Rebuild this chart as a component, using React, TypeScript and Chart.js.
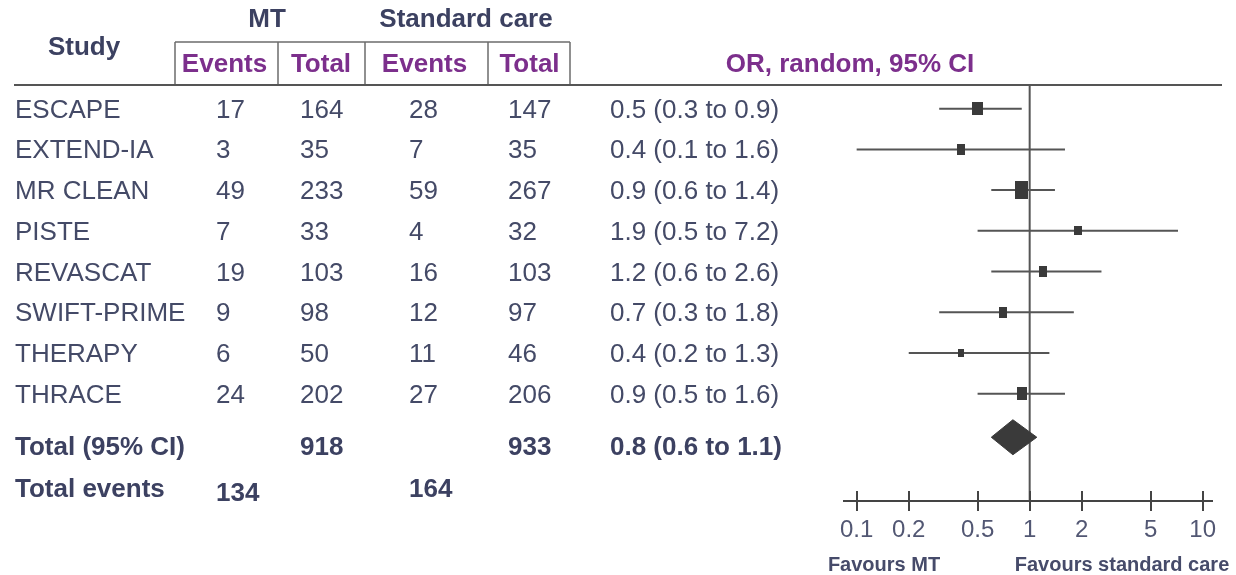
import { useEffect, useRef } from 'react';
import { Chart, registerables } from 'chart.js';

Chart.register(...registerables);

// Trials and raw counts (mechanical thrombectomy vs standard care)
const studies = ['ESCAPE', 'EXTEND-IA', 'MR CLEAN', 'PISTE', 'REVASCAT', 'SWIFT-PRIME', 'THERAPY', 'THRACE'];
const mtEvents = [17, 3, 49, 7, 19, 9, 6, 24];
const mtTotals = [164, 35, 233, 33, 103, 98, 50, 202];
const scEvents = [28, 7, 59, 4, 16, 12, 11, 27];
const scTotals = [147, 35, 267, 32, 103, 97, 46, 206];

// Odds ratios (random effects) with 95% confidence intervals
const oddsRatios = [0.5, 0.4, 0.9, 1.9, 1.2, 0.7, 0.4, 0.9];
const ciLower = [0.3, 0.1, 0.6, 0.5, 0.6, 0.3, 0.2, 0.5];
const ciUpper = [0.9, 1.6, 1.4, 7.2, 2.6, 1.8, 1.3, 1.6];

// Pooled result: [OR, lower, upper]
const pooledEstimate = [0.8, 0.6, 1.1];
// Participants [MT, standard care] and events [MT, standard care]
const totalParticipants = [918, 933];
const totalEvents = [134, 164];

const axisTicks = [0.1, 0.2, 0.5, 1, 2, 5, 10];

// ---- styling ----
const FONT = '"Liberation Sans", Arial, Helvetica, sans-serif';
const TEXT = '#444a67';
const HEAD = '#3c4161';
const PURPLE = '#7c2f8c';
const TICK_TEXT = '#525773';
const MARK = '#3a3a3a';
const RULE = '#555555';

// box width/height per study (weight markers)
const boxSizes: [number, number][] = [[11, 13], [8, 11], [13, 18], [8, 9], [8, 11], [8, 11], [6, 8], [10, 13]];

const Y_MIN = -0.582;
const Y_MAX = 9.636;
const TOTAL_ROW = 8.07;
const DIAMOND_HALF = 0.43;

const COLS = [15, 216, 300, 409, 508, 610];

function makeBox(w: number, h: number) {
  const c = document.createElement('canvas');
  c.width = w;
  c.height = h;
  const g = c.getContext('2d')!;
  g.fillStyle = MARK;
  g.fillRect(0, 0, w, h);
  return c;
}

function fmt(v: number) {
  return v.toFixed(1);
}

function text(ctx: CanvasRenderingContext2D, s: string, x: number, y: number, align: CanvasTextAlign, font: string, color: string) {
  ctx.font = font;
  ctx.fillStyle = color;
  ctx.textAlign = align;
  ctx.textBaseline = 'alphabetic';
  ctx.fillText(s, x, y);
}

function seg(ctx: CanvasRenderingContext2D, x1: number, y1: number, x2: number, y2: number) {
  ctx.beginPath();
  ctx.moveTo(x1, y1);
  ctx.lineTo(x2, y2);
  ctx.stroke();
}

const tablePlugin = {
  id: 'forestTable',
  afterDraw(chart: any) {
    const ctx: CanvasRenderingContext2D = chart.ctx;
    const ys = chart.scales.y;
    const xs = chart.scales.x;
    const area = chart.chartArea;
    ctx.save();

    // header rules
    ctx.strokeStyle = '#6b6b6b';
    ctx.lineWidth = 1.5;
    seg(ctx, 175, 42, 570, 42);
    [175, 278, 365, 488, 570].forEach((x) => seg(ctx, x, 42, x, 85));
    ctx.strokeStyle = RULE;
    ctx.lineWidth = 2;
    seg(ctx, 14, 85, 1222, 85);

    // axis tick marks crossing the axis line
    ctx.strokeStyle = '#444444';
    ctx.lineWidth = 2;
    axisTicks.forEach((v) => {
      const px = Math.round(xs.getPixelForValue(v));
      seg(ctx, px, area.bottom - 10, px, area.bottom + 10);
    });

    const bold = `bold 26px ${FONT}`;
    const normal = `26px ${FONT}`;

    // headers
    text(ctx, 'MT', 267, 27, 'center', bold, HEAD);
    text(ctx, 'Standard care', 466, 27, 'center', bold, HEAD);
    text(ctx, 'Study', 84, 55, 'center', bold, HEAD);
    text(ctx, 'Events', 224.5, 72, 'center', bold, PURPLE);
    text(ctx, 'Total', 321, 72, 'center', bold, PURPLE);
    text(ctx, 'Events', 424.5, 72, 'center', bold, PURPLE);
    text(ctx, 'Total', 529.5, 72, 'center', bold, PURPLE);
    text(ctx, 'OR, random, 95% CI', 850, 72, 'center', bold, PURPLE);

    // study rows
    studies.forEach((name, i) => {
      const base = ys.getPixelForValue(i) + 9;
      text(ctx, name, COLS[0], base, 'left', normal, TEXT);
      text(ctx, String(mtEvents[i]), COLS[1], base, 'left', normal, TEXT);
      text(ctx, String(mtTotals[i]), COLS[2], base, 'left', normal, TEXT);
      text(ctx, String(scEvents[i]), COLS[3], base, 'left', normal, TEXT);
      text(ctx, String(scTotals[i]), COLS[4], base, 'left', normal, TEXT);
      text(ctx, `${fmt(oddsRatios[i])} (${fmt(ciLower[i])} to ${fmt(ciUpper[i])})`, COLS[5], base, 'left', normal, TEXT);
    });

    // totals
    text(ctx, 'Total (95% CI)', COLS[0], 455, 'left', bold, HEAD);
    text(ctx, String(totalParticipants[0]), COLS[2], 455, 'left', bold, HEAD);
    text(ctx, String(totalParticipants[1]), COLS[4], 455, 'left', bold, HEAD);
    text(ctx, `${fmt(pooledEstimate[0])} (${fmt(pooledEstimate[1])} to ${fmt(pooledEstimate[2])})`, COLS[5], 455, 'left', bold, HEAD);
    text(ctx, 'Total events', COLS[0], 497, 'left', bold, HEAD);
    text(ctx, String(totalEvents[0]), COLS[1], 501, 'left', bold, HEAD);
    text(ctx, String(totalEvents[1]), COLS[3], 497, 'left', bold, HEAD);

    // favours labels
    const fav = `bold 20px ${FONT}`;
    text(ctx, 'Favours MT', 884, 571, 'center', fav, '#464b6a');
    text(ctx, 'Favours standard care', 1122, 571, 'center', fav, '#464b6a');

    ctx.restore();
  },
};

export default function App() {
  const ref = useRef<HTMLCanvasElement | null>(null);

  useEffect(() => {
    document.body.style.margin = '0';
    const canvas = ref.current;
    if (!canvas) return;

    const boxImages = boxSizes.map(([w, h]) => makeBox(w, h));

    const ciDatasets = studies.map((name, i) => ({
      type: 'line' as const,
      label: name,
      data: [
        { x: ciLower[i], y: i },
        { x: ciUpper[i], y: i },
      ],
      borderColor: RULE,
      borderWidth: 2,
      pointRadius: 0,
      fill: false,
      order: 2,
    }));

    const [pOR, pLo, pHi] = pooledEstimate;

    const chart = new Chart(canvas, {
      type: 'scatter',
      data: {
        datasets: [
          {
            type: 'scatter',
            label: 'OR',
            data: studies.map((_, i) => ({ x: oddsRatios[i], y: i })),
            pointStyle: (c: any) => boxImages[c.dataIndex],
            pointRadius: 6,
            order: 0,
          } as any,
          {
            type: 'line',
            label: 'Pooled',
            data: [
              { x: pLo, y: TOTAL_ROW },
              { x: pOR, y: TOTAL_ROW - DIAMOND_HALF },
              { x: pHi, y: TOTAL_ROW },
              { x: pOR, y: TOTAL_ROW + DIAMOND_HALF },
              { x: pLo, y: TOTAL_ROW },
            ],
            borderColor: MARK,
            backgroundColor: MARK,
            borderWidth: 1,
            pointRadius: 0,
            fill: 'shape',
            order: 1,
          } as any,
          ...ciDatasets,
          {
            type: 'line',
            label: 'No effect',
            data: [
              { x: 1, y: Y_MIN },
              { x: 1, y: Y_MAX },
            ],
            borderColor: RULE,
            borderWidth: 2,
            pointRadius: 0,
            fill: false,
            order: 3,
          },
        ],
      },
      options: {
        responsive: false,
        animation: false,
        devicePixelRatio: 1,
        events: [],
        layout: { padding: { left: 844, right: 24, top: 85, bottom: 0 } },
        plugins: {
          legend: { display: false },
          tooltip: { enabled: false },
        },
        scales: {
          x: {
            type: 'logarithmic',
            min: 0.0845,
            max: 11.32,
            bounds: 'data',
            grid: { display: false, drawTicks: true, tickLength: 10 },
            border: { display: true, color: '#444444', width: 2 },
            ticks: {
              autoSkip: false,
              maxRotation: 0,
              padding: 5,
              color: TICK_TEXT,
              font: { family: FONT, size: 24 },
              callback: (v: any) => String(v),
            },
            afterBuildTicks: (s: any) => {
              s.ticks = axisTicks.map((v) => ({ value: v }));
            },
            afterFit: (s: any) => {
              s.height = 74;
            },
          },
          y: {
            type: 'linear',
            display: false,
            reverse: true,
            min: Y_MIN,
            max: Y_MAX,
            bounds: 'data',
          },
        },
      } as any,
      plugins: [tablePlugin],
    });

    return () => chart.destroy();
  }, []);

  return <canvas ref={ref} width={1236} height={575} style={{ display: 'block' }} />;
}
